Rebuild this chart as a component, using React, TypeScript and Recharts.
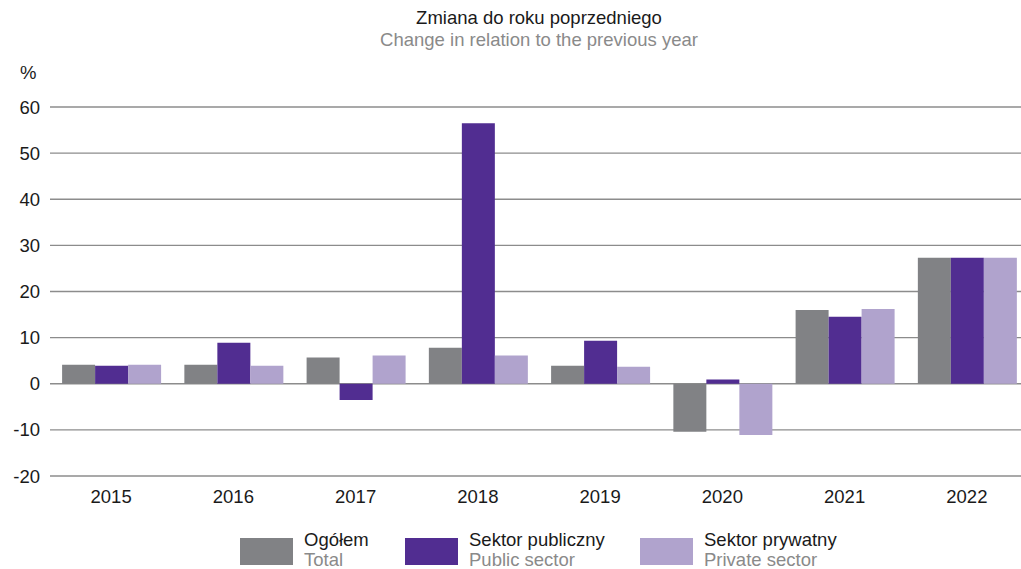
import React from "react";
import { BarChart, Bar, XAxis, YAxis, CartesianGrid } from "recharts";

const years = ["2015", "2016", "2017", "2018", "2019", "2020", "2021", "2022"];
const total = [4.1, 4.1, 5.7, 7.8, 3.9, -10.4, 16.0, 27.3];
const publicSector = [3.9, 8.9, -3.5, 56.5, 9.3, 0.9, 14.5, 27.3];
const privateSector = [4.1, 3.9, 6.1, 6.1, 3.7, -11.1, 16.2, 27.3];
const yTicks = [-20, -10, 0, 10, 20, 30, 40, 50, 60];

const seriesNames = [
  { pl: "Ogółem", en: "Total", color: "#818285" },
  { pl: "Sektor publiczny", en: "Public sector", color: "#512D91" },
  { pl: "Sektor prywatny", en: "Private sector", color: "#B0A3CD" },
];

const data = years.map((y, i) => ({
  year: y,
  total: total[i],
  pub: publicSector[i],
  priv: privateSector[i],
}));

const font = "'Liberation Sans', Arial, sans-serif";
const FS = 18.5;

export default function App() {
  const legendX = [240, 405, 640];
  return (
    <div
      style={{
        position: "absolute",
        left: 0,
        top: 0,
        width: 1021,
        height: 569,
        background: "#fff",
        fontFamily: font,
        overflow: "hidden",
      }}
    >
      <div
        style={{
          position: "absolute",
          left: 0,
          width: 1078,
          top: 7,
          textAlign: "center",
          fontSize: FS,
          lineHeight: "22px",
        }}
      >
        <div style={{ color: "#1a1a1a" }}>Zmiana do roku poprzedniego</div>
        <div style={{ color: "#8a8a8a" }}>Change in relation to the previous year</div>
      </div>
      <div
        style={{
          position: "absolute",
          left: 20,
          top: 62,
          fontSize: FS,
          lineHeight: "22px",
          color: "#1a1a1a",
        }}
      >
        %
      </div>
      <div style={{ position: "absolute", left: 0, top: 0 }}>
        <BarChart
          width={1030}
          height={569}
          data={data}
          margin={{ top: 107, right: 2, left: 10, bottom: 63 }}
          barCategoryGap="9.9%"
          barGap={0}
        >
          <CartesianGrid
            horizontal={true}
            vertical={false}
            stroke="#8c8c8c"
            strokeWidth={1.3}
          />
          <XAxis
            dataKey="year"
            axisLine={false}
            tickLine={false}
            tick={{ fill: "#1a1a1a", fontSize: FS, fontFamily: font }}
            tickMargin={8}
            height={30}
          />
          <YAxis
            domain={[-20, 60]}
            ticks={yTicks}
            axisLine={false}
            tickLine={false}
            width={40}
            tickMargin={4}
            interval={0}
            tick={{ fill: "#1a1a1a", fontSize: FS, fontFamily: font }}
          />
          <Bar dataKey="total" fill={seriesNames[0].color} isAnimationActive={false} />
          <Bar dataKey="pub" fill={seriesNames[1].color} isAnimationActive={false} />
          <Bar dataKey="priv" fill={seriesNames[2].color} isAnimationActive={false} />
        </BarChart>
      </div>
      {seriesNames.map((s, i) => (
        <div key={s.en}>
          <div
            style={{
              position: "absolute",
              left: legendX[i],
              top: 538,
              width: 53,
              height: 27,
              background: s.color,
            }}
          />
          <div
            style={{
              position: "absolute",
              left: legendX[i] + 64,
              top: 530,
              fontSize: FS,
              lineHeight: "20px",
              whiteSpace: "nowrap",
            }}
          >
            <div style={{ color: "#1a1a1a" }}>{s.pl}</div>
            <div style={{ color: "#8a8a8a" }}>{s.en}</div>
          </div>
        </div>
      ))}
    </div>
  );
}
